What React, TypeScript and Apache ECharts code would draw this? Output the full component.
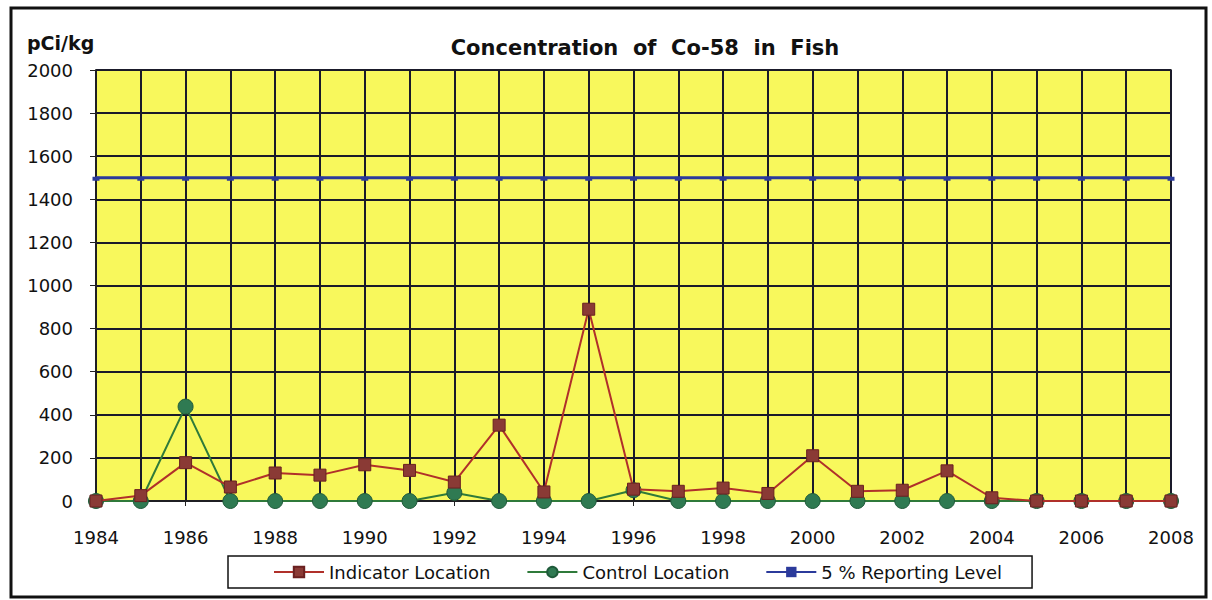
import React, { useEffect, useRef } from "react";
import * as echarts from "echarts";

const years = ["1984","1985","1986","1987","1988","1989","1990","1991","1992","1993","1994","1995","1996","1997","1998","1999","2000","2001","2002","2003","2004","2005","2006","2007","2008"];
const indicator = [0, 25, 178, 65, 130, 120, 168, 142, 88, 352, 42, 890, 55, 45, 60, 35, 210, 45, 50, 140, 15, 0, 0, 0, 0];
const control = [0, 0, 438, 0, 0, 0, 0, 0, 38, 0, 0, 0, 50, 0, 0, 0, 0, 0, 0, 0, 0, 0, 0, 0, 0];
const reporting = [1500, 1500, 1500, 1500, 1500, 1500, 1500, 1500, 1500, 1500, 1500, 1500, 1500, 1500, 1500, 1500, 1500, 1500, 1500, 1500, 1500, 1500, 1500, 1500, 1500];
const seriesNames = ["Indicator Location", "Control Location", "5 % Reporting Level"];
const titleText = "Concentration  of  Co-58  in  Fish";
const unitText = "pCi/kg";

export default function App() {
  const ref = useRef<HTMLDivElement>(null);
  useEffect(() => {
    if (!ref.current) return;
    const chart = echarts.init(ref.current, null, { renderer: "svg" });
    const font = "DejaVu Sans, sans-serif";
    chart.setOption({
      animation: false,
      backgroundColor: "#ffffff",
      textStyle: { fontFamily: font },
      title: {
        text: titleText,
        left: 640,
        top: 32,
        textAlign: "center",
        textStyle: { fontSize: 21, fontWeight: "bold", color: "#111", fontFamily: font },
      },
      graphic: [
        {
          type: "rect",
          shape: { x: 11, y: 8, width: 1195, height: 589 },
          style: { fill: "none", stroke: "#111", lineWidth: 3 },
          silent: true,
        },
        {
          type: "text",
          x: 27,
          y: 33,
          style: { text: unitText, font: "bold 19px " + font, fill: "#111" },
        },
      ],
      legend: {
        data: seriesNames,
        left: 228,
        top: 556,
        padding: [7, 30, 7, 45],
        itemGap: 36,
        itemWidth: 50,
        itemHeight: 13,
        borderColor: "#111",
        borderWidth: 1.5,
        textStyle: { fontSize: 18, color: "#111", fontFamily: font },
      },
      grid: { left: 96, right: 41, top: 70, bottom: 99, show: true, backgroundColor: "#F8F85C", borderColor: "#222", borderWidth: 1.5 },
      xAxis: {
        type: "category",
        data: years,
        boundaryGap: false,
        axisLine: { show: true, lineStyle: { color: "#222", width: 1.5 } },
        axisTick: { show: true, length: 5, interval: 0, lineStyle: { color: "#222" } },
        axisLabel: { interval: 1, fontSize: 18, color: "#111", margin: 27, fontFamily: font },
        splitLine: { show: true, interval: 0, lineStyle: { color: "#1a1a2a", width: 2 } },
      },
      yAxis: {
        type: "value",
        min: 0,
        max: 2000,
        interval: 200,
        axisLine: { show: true, lineStyle: { color: "#222", width: 1.5 } },
        axisTick: { show: true, length: 6, lineStyle: { color: "#222" } },
        axisLabel: { fontSize: 18, color: "#111", margin: 23, fontFamily: font, formatter: (v: number) => String(v) },
        splitLine: { show: true, lineStyle: { color: "#1a1a2a", width: 2 } },
      },
      series: [
        {
          name: seriesNames[2],
          type: "line",
          data: reporting,
          symbol: "rect",
          symbolSize: [7, 4],
          symbolOffset: [0, 1],
          itemStyle: { color: "#2B3A9B" },
          lineStyle: { color: "#2B3A9B", width: 3 },
          z: 3,
        },
        {
          name: seriesNames[1],
          type: "line",
          data: control,
          symbol: "circle",
          symbolSize: 15,
          itemStyle: { color: "#2F7A52", borderColor: "#1f5a3a", borderWidth: 1 },
          lineStyle: { color: "#2F7A3A", width: 2 },
          z: 4,
        },
        {
          name: seriesNames[0],
          type: "line",
          data: indicator,
          symbol: "rect",
          symbolSize: 12,
          itemStyle: { color: "#8A3A35", borderColor: "#6a2020", borderWidth: 1 },
          lineStyle: { color: "#B0302A", width: 2 },
          z: 5,
        },
      ],
    });
    return () => chart.dispose();
  }, []);
  return (
    <div
      ref={ref}
      style={{ position: "absolute", left: 0, top: 0, width: 1212, height: 600 }}
    />
  );
}
